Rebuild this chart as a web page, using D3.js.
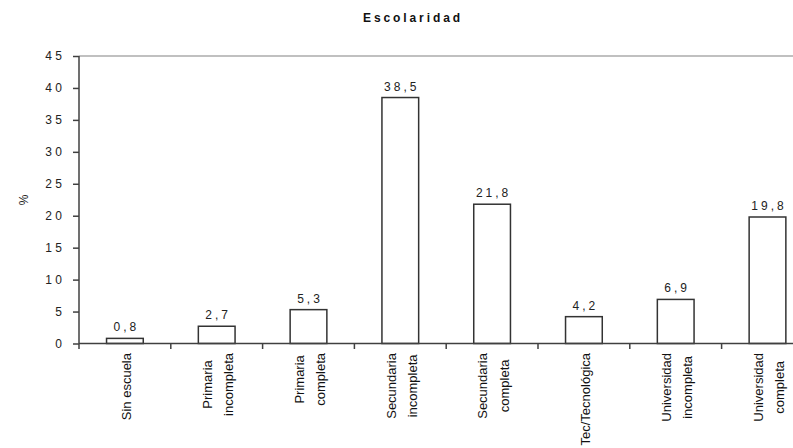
<!DOCTYPE html>
<html><head><meta charset="utf-8">
<script src="https://cdn.jsdelivr.net/npm/d3@7"></script>
<style>
html,body{margin:0;padding:0;background:#fff;}
svg{display:block;font-family:"Liberation Sans",Arial,sans-serif;}
</style></head>
<body>
<svg id="chart" width="793" height="448"></svg>
<script>
const categories = [
  ["Sin escuela"],
  ["Primaria","incompleta"],
  ["Primaria","completa"],
  ["Secundaria","incompleta"],
  ["Secundaria","completa"],
  ["Tec/Tecnológica"],
  ["Universidad","incompleta"],
  ["Universidad","completa"]
];
const values = [0.8, 2.7, 5.3, 38.5, 21.8, 4.2, 6.9, 19.8];
const yTicks = [0,5,10,15,20,25,30,35,40,45];
const title = "Escolaridad";
const yLabel = "%";

const svg = d3.select("#chart");
const x0 = 79, step = 91.8;
const keys = categories.map(c => c.join(" "));
const x = d3.scaleBand().domain(keys).range([x0, x0 + step*keys.length]).paddingInner(0.6).paddingOuter(0.3);
const y = d3.scaleLinear().domain([0,45]).range([343.5, 56]);
const axisColor = "#404040";

// top gridline
svg.append("line").attr("x1", x0).attr("x2", 793).attr("y1", y(45)).attr("y2", y(45))
  .attr("stroke", "#c0c0c0").attr("stroke-width", 2);

// y axis
const yAxis = svg.append("g").attr("transform", `translate(${x0},0)`)
  .call(d3.axisLeft(y).tickValues(yTicks).tickSize(6).tickPadding(7.5).tickFormat(d => String(d)));
yAxis.select(".domain").remove();
yAxis.selectAll(".tick line").attr("stroke", axisColor).attr("stroke-width", 1.5);
yAxis.selectAll(".tick text").attr("font-size", 12).attr("fill", "#222")
  .style("letter-spacing", "3.5px").attr("font-family", "Liberation Sans, Arial, sans-serif");
svg.append("line").attr("x1", x0).attr("x2", x0).attr("y1", y(45)).attr("y2", y(0))
  .attr("stroke", axisColor).attr("stroke-width", 1.5);

// bars
svg.selectAll("rect.bar").data(values).join("rect").attr("class","bar")
  .attr("x", (d,i) => x(keys[i])).attr("width", x.bandwidth())
  .attr("y", d => y(d)).attr("height", d => y(0) - y(d))
  .attr("fill", "#fff").attr("stroke", "#333").attr("stroke-width", 1.5);

// value labels
svg.selectAll("text.val").data(values).join("text").attr("class","val")
  .attr("x", (d,i) => x(keys[i]) + x.bandwidth()/2 + 1.5)
  .attr("y", d => y(d) - 7)
  .attr("text-anchor", "middle").attr("font-size", 12).attr("fill", "#222")
  .style("letter-spacing", "3px")
  .text(d => String(d).replace(".", ","));

// x axis
svg.append("line").attr("x1", x0).attr("x2", 793).attr("y1", y(0)).attr("y2", y(0))
  .attr("stroke", axisColor).attr("stroke-width", 1.5);
const bounds = d3.range(keys.length + 1).map(i => x0 + i*x.step());
svg.selectAll("line.xt").data(bounds).join("line").attr("class","xt")
  .attr("x1", d => d).attr("x2", d => d).attr("y1", y(0)).attr("y2", y(0) + 5.5)
  .attr("stroke", axisColor).attr("stroke-width", 1.5);

// category labels
categories.forEach((lines, i) => {
  const cx = x(keys[i]) + x.bandwidth()/2;
  const g = svg.append("g").attr("transform", `translate(${cx},353) rotate(-90)`);
  const texts = lines.map((ln, j) => g.append("text").attr("font-size", 13).attr("fill", "#111")
      .attr("text-anchor", "middle")
      .attr("y", 2 + 4 + (j - (lines.length-1)/2) * 21.5).text(ln));
  const maxL = d3.max(texts, t => t.node().getComputedTextLength());
  texts.forEach(t => t.attr("x", -maxL/2));
});

// title
svg.append("text").attr("x", 413).attr("y", 22).attr("text-anchor", "middle")
  .attr("font-size", 12).attr("font-weight", "bold").attr("fill", "#111")
  .style("letter-spacing", "2.9px").text(title);

// y label
svg.append("text").attr("transform", "translate(28,200) rotate(-90)").attr("text-anchor", "middle")
  .attr("font-size", 12).attr("fill", "#222").text(yLabel);
</script>
</body></html>
